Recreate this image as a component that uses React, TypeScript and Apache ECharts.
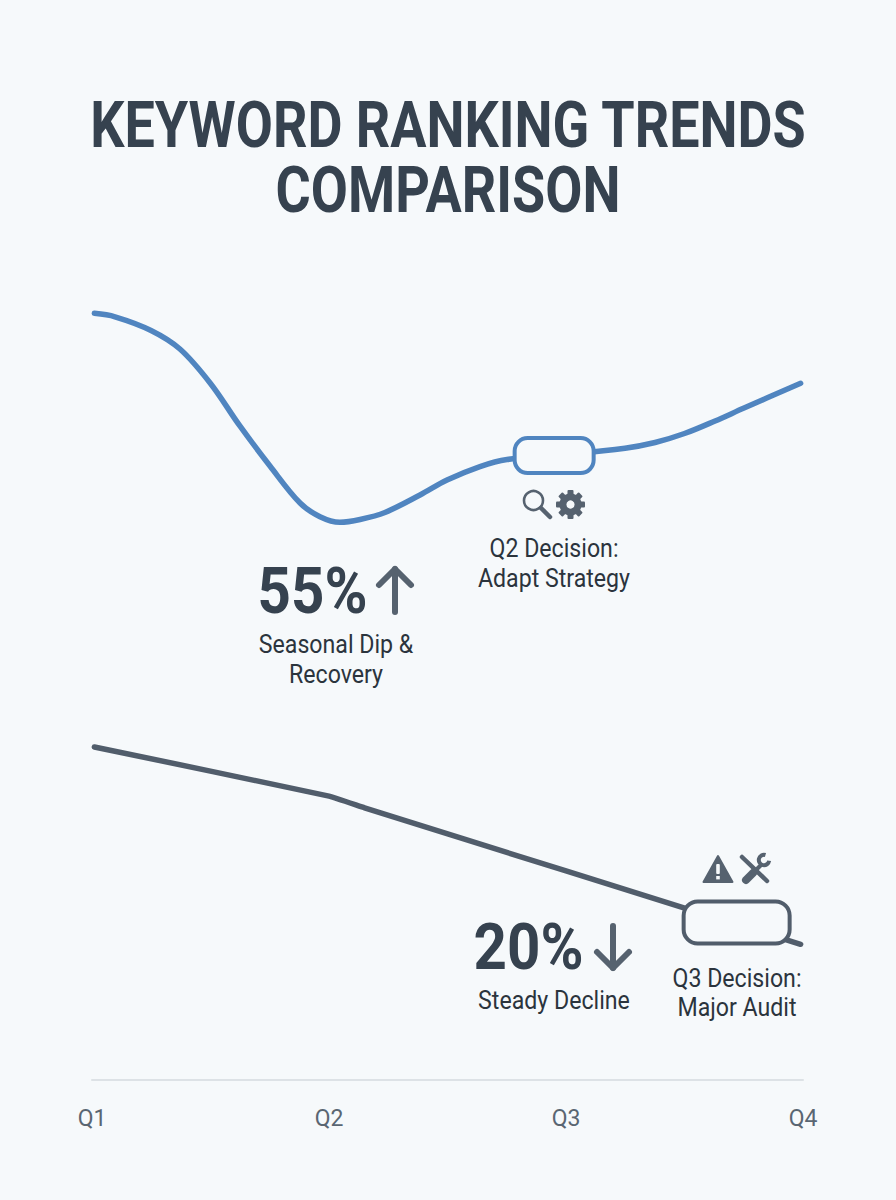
import React, { useEffect, useRef } from "react";
import * as echarts from "echarts";

const quarterLabels = ["Q1", "Q2", "Q3", "Q4"];
const seasonalX = [0.01, 0.097, 0.249, 0.371, 0.5, 0.624, 0.751, 0.878, 0.962, 1.046, 1.131, 1.236, 1.384, 1.498, 1.637, 1.751, 2, 2.249, 2.376, 2.5, 2.629, 2.751, 2.99];
const seasonalY = [98.29, 97.85, 96.1, 93.72, 89.3, 83.85, 78.72, 73.97, 72.22, 71.5, 71.86, 72.76, 75, 76.92, 78.65, 79.55, 80.19, 81, 81.73, 82.88, 84.49, 86.15, 89.32];
const seasonalSeries = seasonalX.map((x, i) => [x, seasonalY[i]]);
const declineSeries: [number, number][] = [
  [0.01, 42.7], [1, 36.4], [1.15, 34.9], [2, 26.8], [2.99, 17.4],
];
const seasonalBox = [[1.95, 80.06]];
const declineBox = [[2.72, 20.2]];

const BG = "#f6f9fb";
const BLUE = "#5085c0";
const SLATE = "#515d6b";
const DARK = "#36424f";
const BODY = "#2b343d";
const ICON = "#56626f";

function txt(text: string, x: number, y: number, size: number, weight: number, fill: string, sx = 0.89) {
  return {
    type: "text", x, y, scaleX: sx, silent: true, z: 20,
    style: { text, fontFamily: "Roboto", fontSize: size, fontWeight: weight, fill, textAlign: "center", textVerticalAlign: "middle" },
  };
}
function stroke(color: string, width: number) {
  return { stroke: color, lineWidth: width, fill: "none", lineCap: "round", lineJoin: "round" };
}
function arrow(x: number, top: number, bottom: number, up: boolean) {
  const tip = up ? top : bottom;
  const d = up ? 16 : -16;
  return {
    type: "group", z: 20, silent: true,
    children: [
      { type: "line", shape: { x1: x, y1: top, x2: x, y2: bottom }, style: stroke(ICON, 6) },
      { type: "polyline", shape: { points: [[x - 16, tip + d], [x, tip], [x + 16, tip + d]] }, style: stroke(ICON, 6) },
    ],
  };
}
function gear(cx: number, cy: number) {
  const teeth = [0, 1, 2, 3, 4, 5, 6, 7].map((i) => ({
    type: "rect", x: cx, y: cy, rotation: (i * Math.PI) / 4,
    shape: { x: -3, y: -14.5, width: 6, height: 6, r: 1 }, style: { fill: ICON },
  }));
  return {
    type: "group", z: 20, silent: true,
    children: [...teeth, { type: "circle", shape: { cx, cy, r: 7.6 }, style: { stroke: ICON, lineWidth: 7, fill: BG } }],
  };
}
function magnifier() {
  return {
    type: "group", z: 20, silent: true,
    children: [
      { type: "circle", shape: { cx: 533.5, cy: 500.5, r: 9.5 }, style: { stroke: ICON, lineWidth: 2.6, fill: "none" } },
      { type: "line", shape: { x1: 541, y1: 508, x2: 550, y2: 517 }, style: stroke(ICON, 4.5) },
    ],
  };
}
function warning() {
  return {
    type: "group", z: 20, silent: true,
    children: [
      { type: "polygon", shape: { points: [[718, 856], [732.5, 882], [703.5, 882]] }, style: { fill: ICON, stroke: ICON, lineWidth: 2, lineJoin: "round" } },
      { type: "rect", shape: { x: 716.2, y: 864, width: 3.6, height: 10, r: 1 }, style: { fill: BG } },
      { type: "rect", shape: { x: 716.2, y: 876, width: 3.6, height: 3.4 }, style: { fill: BG } },
    ],
  };
}
function tools() {
  return {
    type: "group", z: 20, silent: true,
    children: [
      { type: "line", shape: { x1: 742, y1: 857, x2: 767, y2: 881 }, style: stroke(ICON, 4.5) },
      { type: "line", shape: { x1: 746, y1: 880, x2: 753, y2: 873 }, style: stroke(ICON, 8) },
      { type: "line", shape: { x1: 753, y1: 873, x2: 761, y2: 865 }, style: stroke(ICON, 4) },
      { type: "arc", shape: { cx: 764, cy: 860, r: 5.2, startAngle: 0.15, endAngle: 5.0, clockwise: true }, style: { ...stroke(ICON, 4), lineCap: "butt" } },
    ],
  };
}

function boxSeries(name: string, points: number[][], w: number, h: number, r: number, color: string, lw: number) {
  return {
    type: "custom", name, data: points, z: 10, silent: true,
    renderItem: (_: unknown, api: any) => {
      const [px, py] = api.coord([api.value(0), api.value(1)]);
      return {
        type: "rect",
        shape: { x: px - w / 2, y: py - h / 2, width: w, height: h, r },
        style: { fill: BG, stroke: color, lineWidth: lw },
      };
    },
  };
}

export default function App() {
  const ref = useRef<HTMLDivElement>(null);
  useEffect(() => {
    document.body.style.margin = "0";
    const chart = echarts.init(ref.current!, undefined, { renderer: "svg" });
    chart.setOption({
      animation: false,
      backgroundColor: BG,
      grid: { left: 92, right: 93, top: 300, bottom: 120 },
      xAxis: {
        type: "value", min: 0, max: 3, interval: 1,
        axisLine: { show: true, onZero: false, lineStyle: { color: "#dde2e6", width: 2 } },
        axisTick: { show: false },
        splitLine: { show: false },
        axisLabel: {
          formatter: (v: number) => quarterLabels[v], color: "#5a6672", fontFamily: "Roboto",
          fontSize: 23, margin: 27, hideOverlap: false, showMinLabel: true, showMaxLabel: true,
        },
      },
      yAxis: { type: "value", min: 0, max: 100, show: false },
      series: [
        {
          type: "line", name: "Seasonal Dip & Recovery", data: seasonalSeries, smooth: 0.35, showSymbol: false,
          lineStyle: { color: BLUE, width: 5.5, cap: "round" }, z: 5, silent: true,
        },
        {
          type: "line", name: "Steady Decline", data: declineSeries, smooth: 0.1, showSymbol: false,
          lineStyle: { color: SLATE, width: 5.5, cap: "round", join: "round" }, z: 5, silent: true,
        },
        boxSeries("Q2 Decision", seasonalBox, 79, 35, 13, BLUE, 4),
        boxSeries("Q3 Decision", declineBox, 106, 42, 14, SLATE, 4),
      ],
      graphic: [
        txt("KEYWORD RANKING TRENDS", 448, 125, 64, 700, DARK, 0.842),
        txt("COMPARISON", 448, 190, 64, 700, DARK, 0.842),
        txt("55%", 312.5, 591, 64, 700, DARK, 0.91),
        txt("Seasonal Dip &", 336, 644, 26, 400, BODY),
        txt("Recovery", 336, 674, 26, 400, BODY),
        txt("Q2 Decision:", 554, 548, 26, 400, BODY),
        txt("Adapt Strategy", 554, 578, 26, 400, BODY),
        txt("20%", 528.5, 947, 64, 700, DARK, 0.91),
        txt("Steady Decline", 554, 1000, 26, 400, BODY),
        txt("Q3 Decision:", 737, 978, 26, 400, BODY),
        txt("Major Audit", 737, 1007, 26, 400, BODY),
        arrow(395, 569, 612, true),
        arrow(613, 926, 968, false),
        magnifier(),
        gear(570.5, 504.5),
        warning(),
        tools(),
      ],
    });
    return () => chart.dispose();
  }, []);
  return <div ref={ref} style={{ width: 896, height: 1200 }} />;
}
